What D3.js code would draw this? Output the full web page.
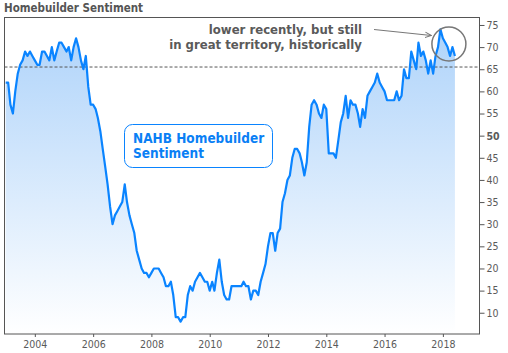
<!DOCTYPE html>
<html>
<head>
<meta charset="utf-8">
<script src="https://cdn.jsdelivr.net/npm/d3@7"></script>
<style>
body{margin:0;background:#fff;}
svg{display:block;}
</style>
</head>
<body>
<div id="container"></div>
<script>
let w = 508;
let h = 353;

// DATA - monthly NAHB index starting Jan 2003
let startDate = new Date(2003, 0, 1);
let hmiValues = [
  62, 62, 57, 55, 60, 64, 66, 67, 69, 68, 69, 68,   // 2003
  67, 66, 66, 69, 69, 68, 67, 70, 67, 69, 71, 71,   // 2004
  70, 69, 70, 67, 70, 72, 70, 67, 65, 68, 61, 57,   // 2005
  57, 56, 54, 51, 47, 43, 39, 34, 30, 32, 33, 34,   // 2006
  35, 39, 35, 32, 30, 28, 24, 22, 20, 19, 19, 18,   // 2007
  19, 20, 20, 20, 19, 18, 16, 16, 17, 14, 9, 9,     // 2008
  8, 9, 9, 14, 16, 15, 17, 18, 19, 18, 17, 17,      // 2009
  15, 17, 15, 19, 22, 17, 14, 13, 13, 16, 16, 16,   // 2010
  16, 16, 17, 16, 16, 13, 15, 15, 14, 17, 19, 21,   // 2011
  25, 28, 28, 24, 28, 29, 35, 37, 40, 41, 45, 47,   // 2012
  47, 46, 44, 41, 44, 52, 57, 58, 57, 55, 54, 57,   // 2013
  56, 46, 46, 46, 45, 49, 53, 55, 59, 54, 58, 57,   // 2014
  57, 55, 52, 56, 54, 59, 60, 61, 62, 64, 62, 61,   // 2015
  60, 58, 58, 58, 58, 60, 58, 59, 65, 63, 63, 69,   // 2016
  67, 65, 71, 68, 69, 67, 64, 67, 64, 68, 70, 74,   // 2017
  72, 71, 70, 68, 70, 68                            // 2018
];
let yTicks = [10, 15, 20, 25, 30, 35, 40, 45, 50, 55, 60, 65, 70, 75];
let xTickYears = [2004, 2006, 2008, 2010, 2012, 2014, 2016, 2018];
let refLevel = 65.5;
let titleText = "Homebuilder Sentiment";
let seriesLabel = ["NAHB Homebuilder", "Sentiment"];
let noteLines = ["lower recently, but still", "in great territory, historically"];

let data = hmiValues.map(function(v, i){
  return {date: d3.timeMonth.offset(startDate, i), value: v};
});

let font = "Tahoma, 'DejaVu Sans Condensed', 'DejaVu Sans', sans-serif";

// SVG
let viz = d3.select("#container").append("svg")
  .attr("width", w)
  .attr("height", h)
  .style("background-color", "white");

// SCALES
let xScale = d3.scaleTime()
  .domain([new Date(2002, 11, 17), new Date(2019, 3, 5)])
  .range([4.5, 479.5]);
let yScale = d3.scaleLinear().domain([5.2, 76.8]).range([334, 17]);

// gradient for area
let defs = viz.append("defs");
let grad = defs.append("linearGradient")
  .attr("id", "fillGrad")
  .attr("gradientUnits", "userSpaceOnUse")
  .attr("x1", 0).attr("x2", 0)
  .attr("y1", yScale(75)).attr("y2", yScale(5.2));
grad.append("stop").attr("offset", "0%").attr("stop-color", "#aed3fa");
grad.append("stop").attr("offset", "100%").attr("stop-color", "#ffffff");

defs.append("marker")
  .attr("id", "arrowHead")
  .attr("viewBox", "0 0 10 10")
  .attr("refX", 9).attr("refY", 5)
  .attr("markerWidth", 7).attr("markerHeight", 7)
  .attr("orient", "auto")
  .append("path")
  .attr("d", "M0,1 L9,5 L0,9")
  .attr("fill", "none")
  .attr("stroke", "#777")
  .attr("stroke-width", 1.4);

// AREA + LINE
let areaMaker = d3.area()
  .x(function(d){ return xScale(d.date); })
  .y0(yScale.range()[0])
  .y1(function(d){ return yScale(d.value); });
let lineMaker = d3.line()
  .x(function(d){ return xScale(d.date); })
  .y(function(d){ return yScale(d.value); });

viz.append("path").datum(data)
  .attr("d", areaMaker)
  .attr("fill", "url(#fillGrad)");

// reference dashed line
viz.append("line")
  .attr("x1", xScale.range()[0]).attr("x2", xScale.range()[1])
  .attr("y1", yScale(refLevel)).attr("y2", yScale(refLevel))
  .attr("stroke", "#555")
  .attr("stroke-width", 1)
  .attr("stroke-dasharray", "3,2");

viz.append("path").datum(data)
  .attr("d", lineMaker)
  .attr("fill", "none")
  .attr("stroke", "#0a84ff")
  .attr("stroke-width", 2.2)
  .attr("stroke-linejoin", "round");

// frame
viz.append("rect")
  .attr("x", 4.5).attr("y", 17.5)
  .attr("width", 475).attr("height", 316.5)
  .attr("fill", "none")
  .attr("stroke", "#555")
  .attr("stroke-width", 1);

// AXES
let yAxis = d3.axisRight(yScale).tickValues(yTicks).tickSize(5).tickPadding(2);
let yG = viz.append("g").attr("transform", "translate(479.5,0)").call(yAxis);
yG.select(".domain").remove();
yG.selectAll("line").attr("stroke", "#555");
yG.selectAll("text")
  .attr("fill", "#5a5a5a")
  .style("font-family", font)
  .style("font-size", "10.5px")
  .style("font-weight", function(d){ return d === 50 ? "bold" : "normal"; });

let xAxis = d3.axisBottom(xScale)
  .tickValues(xTickYears.map(function(y){ return new Date(y, 0, 1); }))
  .tickFormat(d3.timeFormat("%Y"))
  .tickSize(3).tickPadding(4);
let xG = viz.append("g").attr("transform", "translate(0,334)").call(xAxis);
xG.select(".domain").remove();
xG.selectAll("line").attr("stroke", "#555");
xG.selectAll("text")
  .attr("fill", "#5a5a5a")
  .style("font-family", font)
  .style("font-size", "10.5px");

// TITLE
viz.append("text")
  .attr("x", 4).attr("y", 12)
  .attr("fill", "#555")
  .style("font-family", font)
  .style("font-size", "11.5px")
  .style("font-weight", "bold")
  .text(titleText);

// series label box
viz.append("rect")
  .attr("x", 124.5).attr("y", 124.5)
  .attr("width", 148).attr("height", 43)
  .attr("rx", 8)
  .attr("fill", "white")
  .attr("stroke", "#0a84ff")
  .attr("stroke-width", 1);
viz.selectAll(".serieslabel").data(seriesLabel).enter()
  .append("text")
  .attr("class", "serieslabel")
  .attr("x", 133)
  .attr("y", function(d, i){ return 143 + i * 15; })
  .attr("fill", "#0a7ff5")
  .style("font-family", font)
  .style("font-size", "13.5px")
  .style("font-weight", "bold")
  .text(function(d){ return d; });

// annotation
viz.selectAll(".note").data(noteLines).enter()
  .append("text")
  .attr("class", "note")
  .attr("x", 362)
  .attr("y", function(d, i){ return 34 + i * 15; })
  .attr("text-anchor", "end")
  .attr("fill", "#5a5a5a")
  .style("font-family", font)
  .style("font-size", "13px")
  .style("font-weight", "bold")
  .text(function(d){ return d; });

let peak = data[d3.maxIndex(data, function(d){ return d.value; })];
viz.append("line")
  .attr("x1", 374).attr("y1", 29.5)
  .attr("x2", xScale(peak.date) - 9).attr("y2", 35.5)
  .attr("stroke", "#777")
  .attr("stroke-width", 1)
  .attr("marker-end", "url(#arrowHead)");
viz.append("circle")
  .attr("cx", xScale(peak.date) + 8.5)
  .attr("cy", 44)
  .attr("r", 17)
  .attr("fill", "none")
  .attr("stroke", "#777")
  .attr("stroke-width", 1.5);
</script>
</body>
</html>
